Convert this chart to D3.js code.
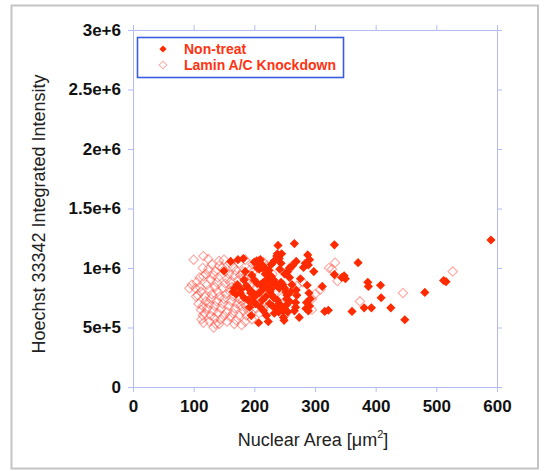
<!DOCTYPE html>
<html>
<head>
<meta charset="utf-8">
<script src="https://cdn.jsdelivr.net/npm/d3@7"></script>
<style>
  html, body { margin: 0; padding: 0; background: #fff; }
  svg { display: block; font-family: "Liberation Sans", Arial, Helvetica, sans-serif; }
</style>
</head>
<body>
<svg id="chart" width="545" height="471"></svg>
<script>
// Nuclear area (µm²) vs Hoechst 33342 integrated intensity (×1e6)
const nonTreat = [
  [590,1.235],[516,0.885],[512,0.895],[481,0.795],[448,0.565],[425,0.665],[409,0.75],[408,0.855],
  [393,0.665],[381,0.665],[387,0.88],[388,0.845],[371,1.045],[361,0.635],[348,0.935],[350,0.91],
  [344,0.92],[332,1.195],[332,0.945],[312,0.845],[316,0.635],[322,0.645],[298,0.97],[266,1.205],
  [239,1.19],[288,1.11],[291,1.07],[284,1.04],[289,1.025],[281,1.005],[269,1.055],[269,0.815],
  [270,0.77],[268,0.71],[287,0.855],[290,0.79],[292,0.74],[286,0.71],[291,0.68],[285,0.66],
  [289,0.64],[274,0.585],[276,0.91],[268,0.67],[266,0.64],
  [207,0.54],[223,0.55],[249,0.56],[248,0.585],[195,0.6],[192,0.67],[150,0.975],[161,1.055],
  [173,1.07],[182,1.08],[165,0.8],[167,0.83],[172,0.86],[183,0.9],[187,0.85],[190,0.83],[178,0.82],
  [200,1.05],[204,1.06],[208,1.04],[210,1.07],[212,1.03],[205,1.0],[208,0.99],[213,1.0],[218,1.0],
  [224,0.98],[205,0.87],[210,0.86],[215,0.88],[222,0.91],[237,1.1],[241,1.08],[244,1.04],[242,0.99],
  [238,1.12],[232,0.9],[235,0.87],[238,0.85],[241,0.83],[244,0.88],[247,0.86],[250,0.83],[252,0.8],
  [254,0.77],[253,0.74],[226,0.8],[229,0.77],[232,0.75],[238,0.73],[241,0.7],[244,0.67],[247,0.64],
  [250,0.66],[253,0.69],[255,0.63],[196,0.8],[199,0.76],[202,0.77],[208,0.79],[214,0.82],[220,0.84],
  [190,0.73],[197,0.72],[194,0.79],[225,0.7],[230,0.68],[236,0.66],[220,0.6],[233,0.62],[240,0.63],
  [258,0.72],[260,0.8],[262,0.86],[258,0.92],[255,0.97],[250,0.95],[228,0.93],[218,0.95],[226,0.88],
  [231,0.84],[202,0.7],[210,0.67],[215,0.64],[228,1.03],[233,1.06],[245,1.12],[258,1.0],[263,1.02],
  [200,0.9],[196,0.94],[185,0.97],[177,0.79],[170,0.78],[213,0.73],[219,0.76],[183,0.75]
];

const laminKnockdown = [
  [100,1.07],[116,1.1],[124,1.075],[142,1.06],[150,1.07],[97,0.86],[93,0.83],[107,0.77],[115,1.0],
  [116,0.93],[113,0.57],[116,0.54],[115,0.6],[133,0.5],[142,0.53],[155,0.55],[167,0.53],[179,0.52],
  [185,0.55],[196,0.57],[185,1.07],[197,1.03],[208,1.06],[194,0.99],[191,0.94],[181,0.97],[262,1.02],
  [257,0.99],[225,0.65],[239,0.65],[295,0.65],[295,0.74],[309,0.82],[333,1.045],[323,1.0],[328,0.99],
  [337,0.89],[374,0.72],[445,0.79],[527,0.97],[300,0.78],
  [105,0.88],[110,0.84],[112,0.8],[118,0.76],[120,0.72],[115,0.68],[112,0.65],[118,0.62],[122,0.66],
  [125,0.7],[128,0.74],[130,0.78],[126,0.82],[122,0.86],[128,0.9],[133,0.94],[136,0.97],[140,0.92],
  [138,0.88],[135,0.84],[140,0.8],[143,0.76],[138,0.72],[135,0.68],[132,0.64],[128,0.6],[134,0.58],
  [140,0.62],[145,0.66],[148,0.7],[150,0.74],[153,0.78],[148,0.83],[152,0.87],[155,0.91],[158,0.95],
  [147,1.0],[142,1.02],[130,1.03],[124,0.99],[160,0.88],[163,0.84],[160,0.8],[165,0.76],[162,0.72],
  [158,0.68],[155,0.63],[160,0.59],[165,0.62],[168,0.66],[172,0.7],[175,0.74],[178,0.68],[182,0.64],
  [175,0.6],[170,0.56],[187,0.6],[190,0.64],[186,0.68],[180,0.72],[173,0.9],[177,0.94],[170,0.98],
  [165,1.01],[160,1.04],[175,1.04],[183,0.92],[188,0.88],[193,0.85],[200,0.82],[205,0.78],[210,0.74],
  [213,0.7],[215,0.66],[208,0.62],[203,0.66],[198,0.7],[195,0.75],[120,0.95],[110,0.92],[103,0.83],
  [108,0.7],[104,0.76],[145,0.57],[150,0.6],[126,0.55],[136,0.53],[152,0.97],[168,0.94],[200,0.98],
  [215,1.05],[220,1.02],[230,0.95],[235,0.8],[245,0.75],[250,0.6],[270,0.85],[280,0.88]
];

const xTicks = [0, 100, 200, 300, 400, 500, 600];
const yTicks = [0, 0.5e6, 1e6, 1.5e6, 2e6, 2.5e6, 3e6];
const yTickLabels = ["0", "5e+5", "1e+6", "1.5e+6", "2e+6", "2.5e+6", "3e+6"];
const seriesNames = ["Non-treat", "Lamin A/C Knockdown"];

const svg = d3.select("#chart");
const plotLeft = 133, plotRight = 497, plotTop = 30, plotBottom = 387;
const axisColor = "#b3bbf2";
const red = "#ff2a00";

// outer frame
svg.append("rect").attr("x", 11.5).attr("y", 5.5).attr("width", 526.5).attr("height", 463)
  .attr("fill", "none").attr("stroke", "#c4c4c4").attr("stroke-width", 2);

const x = d3.scaleLinear().domain([0, 600]).range([plotLeft, plotRight]);
const y = d3.scaleLinear().domain([0, 3e6]).range([plotBottom, plotTop]);

function styleAxis(g, showText) {
  g.select(".domain").attr("stroke", axisColor);
  g.selectAll(".tick line").attr("stroke", axisColor);
  g.selectAll(".tick text")
    .attr("fill", "#111").attr("font-weight", "bold").attr("font-size", "17px")
    .attr("font-family", "'Liberation Sans', Arial, sans-serif")
    .style("display", showText ? null : "none");
}

svg.append("g").attr("transform", `translate(0,${plotBottom})`)
  .call(d3.axisBottom(x).tickValues(xTicks).tickSize(5).tickSizeOuter(0).tickPadding(8))
  .call(g => styleAxis(g, true));
svg.append("g").attr("transform", `translate(0,${plotTop})`)
  .call(d3.axisTop(x).tickValues(xTicks).tickSize(5).tickSizeOuter(0))
  .call(g => styleAxis(g, false));
svg.append("g").attr("transform", `translate(${plotLeft},0)`)
  .call(d3.axisLeft(y).tickValues(yTicks).tickFormat((d, i) => yTickLabels[i]).tickSize(5).tickSizeOuter(0).tickPadding(7))
  .call(g => styleAxis(g, true));
svg.append("g").attr("transform", `translate(${plotRight},0)`)
  .call(d3.axisRight(y).tickValues(yTicks).tickSize(5).tickSizeOuter(0))
  .call(g => styleAxis(g, false));

// diamond markers: squares turned 45°
const filledSym = d3.symbol().type(d3.symbolSquare).size(42);
const openSym = d3.symbol().type(d3.symbolSquare).size(44);

const plot = svg.append("g");
plot.selectAll("path.kd").data(laminKnockdown).join("path").attr("class", "kd")
  .attr("d", openSym)
  .attr("transform", d => `translate(${x(d[0])},${y(d[1] * 1e6)}) rotate(45)`)
  .attr("fill", "none").attr("stroke", "#ff3b2f").attr("stroke-opacity", 0.45).attr("stroke-width", 1.1);
plot.selectAll("path.nt").data(nonTreat).join("path").attr("class", "nt")
  .attr("d", filledSym)
  .attr("transform", d => `translate(${x(d[0])},${y(d[1] * 1e6)}) rotate(45)`)
  .attr("fill", red);

// legend
const lg = svg.append("g");
lg.append("rect").attr("x", 137.5).attr("y", 37.5).attr("width", 206).attr("height", 40)
  .attr("fill", "#fff").attr("stroke", "#3a5ce0").attr("stroke-width", 1.6);
lg.append("path").attr("d", d3.symbol().type(d3.symbolSquare).size(26))
  .attr("transform", "translate(163,49) rotate(45)").attr("fill", red);
lg.append("path").attr("d", d3.symbol().type(d3.symbolSquare).size(30))
  .attr("transform", "translate(163,65) rotate(45)")
  .attr("fill", "none").attr("stroke", "#ff3b2f").attr("stroke-opacity", 0.45);
seriesNames.forEach((name, i) => {
  lg.append("text").attr("x", 184).attr("y", 54 + i * 16).text(name)
    .attr("fill", "#ff3311").attr("font-weight", "bold").attr("font-size", "14px");
});

// axis titles
const xt = svg.append("text").attr("x", 313).attr("y", 446).attr("text-anchor", "middle")
  .attr("font-size", "18px").attr("fill", "#222");
xt.append("tspan").text("Nuclear Area [");
xt.append("tspan").text("\u03bcm");
xt.append("tspan").text("2").attr("font-size", "11px").attr("dy", -8);
xt.append("tspan").text("]").attr("dy", 8);

svg.append("text").attr("transform", "translate(45,214) rotate(-90)")
  .attr("text-anchor", "middle").attr("font-size", "18px").attr("fill", "#222")
  .text("Hoechst 33342 Integrated Intensity");
</script>
</body>
</html>
